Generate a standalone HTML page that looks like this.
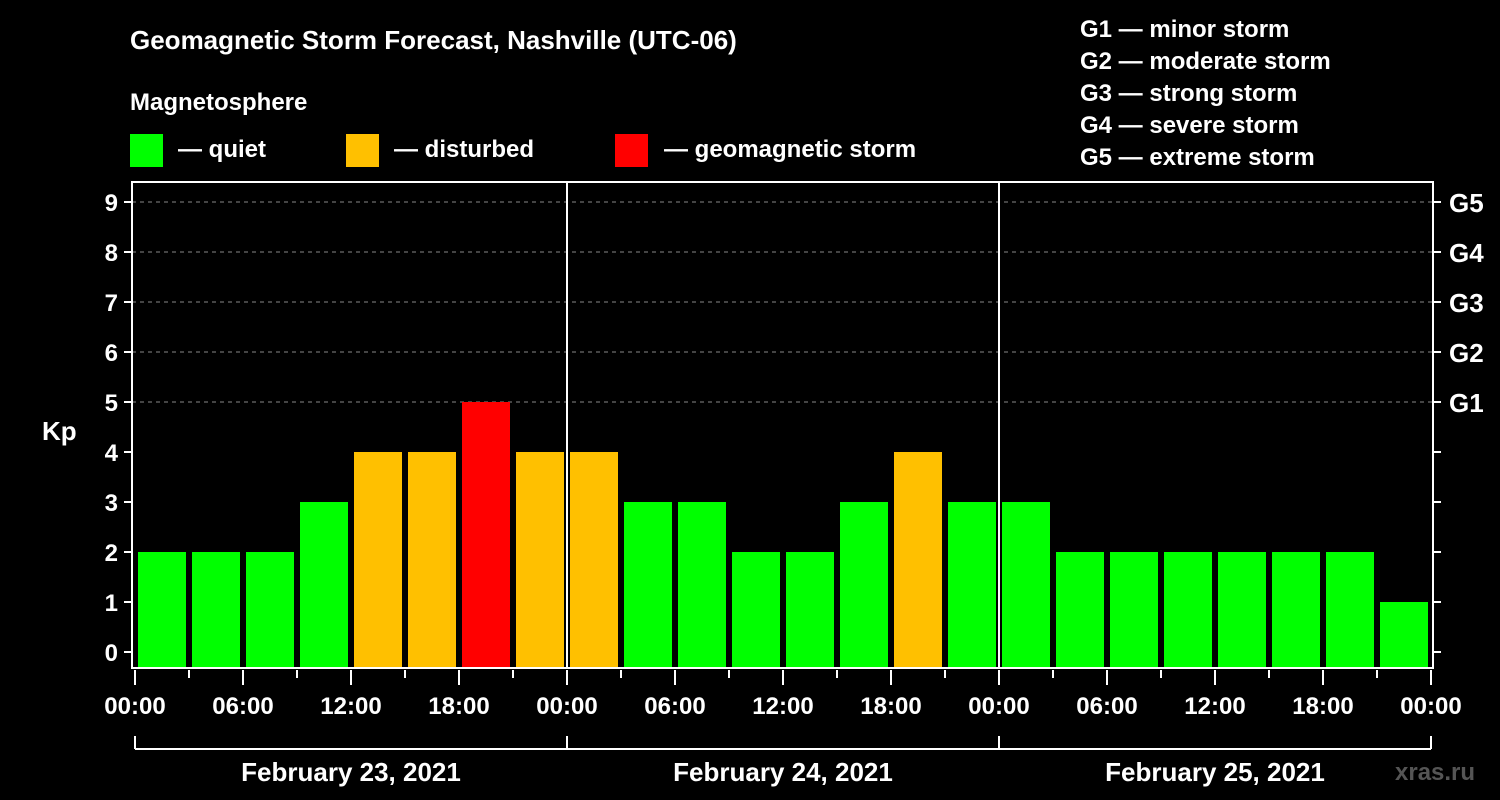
<!DOCTYPE html>
<html><head><meta charset="utf-8"><style>
html,body{margin:0;padding:0;background:#000;}
svg{display:block;font-family:"Liberation Sans",sans-serif;font-weight:bold;}
</style></head><body>
<svg id="c" width="1500" height="800" viewBox="0 0 1500 800">
<text x="130" y="49" fill="#fff" font-size="26">Geomagnetic Storm Forecast, Nashville (UTC-06)</text>
<text x="130" y="110" fill="#fff" font-size="24">Magnetosphere</text>
<g><rect x="130" y="134" width="33" height="33" fill="#00ff00"/><text x="178" y="157" fill="#fff" font-size="24">— quiet</text></g>
<g><rect x="346" y="134" width="33" height="33" fill="#ffc000"/><text x="394" y="157" fill="#fff" font-size="24">— disturbed</text></g>
<g><rect x="615" y="134" width="33" height="33" fill="#ff0000"/><text x="664" y="157" fill="#fff" font-size="24">— geomagnetic storm</text></g>
<g fill="#fff" font-size="24">
<text x="1080" y="37">G1 — minor storm</text>
<text x="1080" y="69">G2 — moderate storm</text>
<text x="1080" y="101">G3 — strong storm</text>
<text x="1080" y="133">G4 — severe storm</text>
<text x="1080" y="165">G5 — extreme storm</text>
</g>
<text x="42" y="440" fill="#fff" font-size="26">Kp</text>
<text x="1395" y="780" fill="#555" font-size="24">xras.ru</text>
<g id="plot"></g>
</svg>
<script>
const kpValues=[2,2,2,3,4,4,5,4, 4,3,3,2,2,3,4,3, 3,2,2,2,2,2,2,1];
const dayLabels=["February 23, 2021","February 24, 2021","February 25, 2021"];
const hourLabels=["00:00","06:00","12:00","18:00"];
const yTicks=[0,1,2,3,4,5,6,7,8,9];
const gLabels=["G1","G2","G3","G4","G5"];
const NS="http://www.w3.org/2000/svg";
const g=document.getElementById('plot');
const X0=135,DAY=432,PER=8,L=132,R=1433,T=182,B=668;
const xOf=h=>X0+h*DAY/24;
const yOf=v=>652-50*v;
function mk(t,a){const e=document.createElementNS(NS,t);for(const k in a)e.setAttribute(k,a[k]);g.appendChild(e);return e;}
// grid
for(let v=5;v<=9;v++){const e=mk('line',{x1:L,x2:R,y1:yOf(v),y2:yOf(v),stroke:'#888','stroke-dasharray':'4,4','stroke-width':1});

}
// bars
const slot=DAY/PER;
kpValues.forEach((v,i)=>{const x=xOf(i*3)+3;const col=v>=5?'#ff0000':(v>=4?'#ffc000':'#00ff00');
const e=mk('rect',{x:x,y:yOf(v),width:slot-6,height:B-yOf(v),fill:col});

});
// day separators
for(let d=1;d<dayLabels.length;d++){const e=mk('line',{x1:xOf(d*24),x2:xOf(d*24),y1:T,y2:B,stroke:'#fff','stroke-width':2});

}
// frame
const fr=mk('rect',{x:L,y:T,width:R-L,height:B-T,fill:'none',stroke:'#fff','stroke-width':2});


// y ticks
yTicks.forEach(v=>{mk('line',{x1:L-8,x2:L,y1:yOf(v),y2:yOf(v),stroke:'#fff','stroke-width':2});
mk('line',{x1:R,x2:R+8,y1:yOf(v),y2:yOf(v),stroke:'#fff','stroke-width':2});
const t=mk('text',{x:L-14,y:yOf(v)+9,fill:'#fff','font-size':24,'text-anchor':'end'});t.textContent=v;

});
gLabels.forEach((s,i)=>{const t=mk('text',{x:1449,y:yOf(i+5)+10,fill:'#fff','font-size':26});t.textContent=s;

});
// x ticks
for(let h=0;h<=24*dayLabels.length;h+=3){const major=h%6===0;
mk('line',{x1:xOf(h),x2:xOf(h),y1:B+2,y2:major?B+17:B+10,stroke:'#fff','stroke-width':2});
if(major){const t=mk('text',{x:xOf(h),y:714,fill:'#fff','font-size':24,'text-anchor':'middle'});t.textContent=hourLabels[(h/6)%4];

}}
// day brackets
mk('line',{x1:xOf(0),x2:xOf(24*dayLabels.length),y1:749,y2:749,stroke:'#fff','stroke-width':2});
for(let d=0;d<=dayLabels.length;d++)mk('line',{x1:xOf(d*24),x2:xOf(d*24),y1:736,y2:749,stroke:'#fff','stroke-width':2});
dayLabels.forEach((s,d)=>{const t=mk('text',{x:xOf(d*24+12),y:781,fill:'#fff','font-size':26,'text-anchor':'middle'});t.textContent=s;

});
</script>
</body></html>
